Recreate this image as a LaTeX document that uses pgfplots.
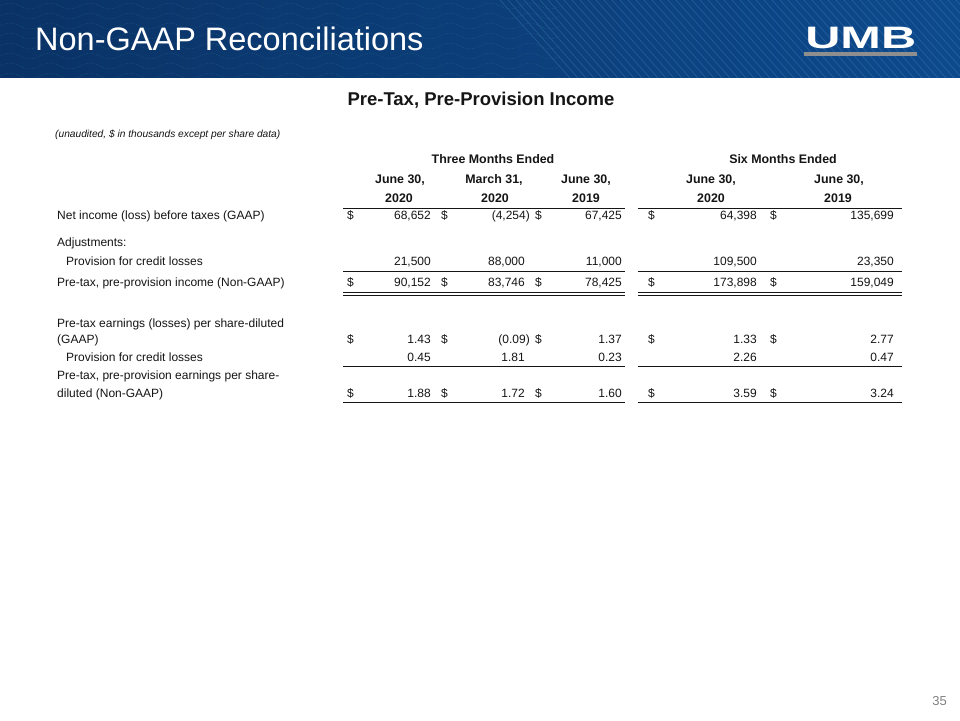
\documentclass[border=0pt]{standalone}
\usepackage{pgfplots}
\pgfplotsset{compat=1.18}
\usepackage{pgfplotstable}
\usepackage{fontspec}
\setmainfont{Liberation Sans}
\definecolor{txt}{HTML}{151515}
\definecolor{bandL}{HTML}{0A3266}
\definecolor{bandR}{HTML}{0D4A8C}
\definecolor{stripe}{HTML}{4A8CCB}
\definecolor{wave}{HTML}{3FA3A0}
\definecolor{logobar}{HTML}{8E8E8E}

% row labels (left aligned): x ; baseline y ; text
\pgfplotstableread[col sep=semicolon]{
x;y;t
57;220;Net income (loss) before taxes (GAAP)
57;247;Adjustments:
66;266;Provision for credit losses
57;287;Pre-tax, pre-provision income (Non-GAAP)
57;327;Pre-tax earnings (losses) per share-diluted
57;343;(GAAP)
66;361;Provision for credit losses
57;379;Pre-tax, pre-provision earnings per share-
57;397;diluted (Non-GAAP)
}\rowlabels

% dollar signs (left aligned)
\pgfplotstableread[col sep=semicolon]{
x;y;t
347;220;\$
441;220;\$
535;220;\$
648;220;\$
770;220;\$
347;287;\$
441;287;\$
535;287;\$
648;287;\$
770;287;\$
347;343;\$
441;343;\$
535;343;\$
648;343;\$
770;343;\$
347;397;\$
441;397;\$
535;397;\$
648;397;\$
770;397;\$
}\dollars

% values (right aligned)
\pgfplotstableread[col sep=semicolon]{
x;y;t
431;220;68,652
530;220;(4,254)
622;220;67,425
757;220;64,398
894;220;135,699
431;266;21,500
525;266;88,000
622;266;11,000
757;266;109,500
894;266;23,350
431;287;90,152
525;287;83,746
622;287;78,425
757;287;173,898
894;287;159,049
431;343;1.43
530;343;(0.09)
622;343;1.37
757;343;1.33
894;343;2.77
431;361;0.45
525;361;1.81
622;361;0.23
757;361;2.26
894;361;0.47
431;397;1.88
525;397;1.72
622;397;1.60
757;397;3.59
894;397;3.24
}\values

% column headers (centred, bold)
\pgfplotstableread[col sep=semicolon]{
x;y;t
493;164;Three Months Ended
783;164;Six Months Ended
400;184;June 30,
494;184;March 31,
586;184;June 30,
711;184;June 30,
839;184;June 30,
399;203;2020
495;203;2020
586;203;2019
711;203;2020
838;203;2019
}\headers

\begin{document}
\begin{tikzpicture}
\begin{scope}[x=1pt,y=-1pt,yshift=720pt]
  \fill[white] (0,0) rectangle (960,720);
  \shade[left color=bandL, right color=bandR] (0,0) rectangle (960,78);
  \begin{scope}
    \clip (0,0) rectangle (960,78);
    \foreach \k in {0,...,13}{
      \foreach \r in {6,16,...,76}{
        \draw[wave, opacity=0.25, line width=0.5pt, dash pattern=on 1.2pt off 1.2pt]
          (\k*40,\r) sin (\k*40+10,\r-3) cos (\k*40+20,\r) sin (\k*40+30,\r+3) cos (\k*40+40,\r);
      }
    }
    \foreach \i in {500,508,...,960}{
      \draw[stripe, opacity=0.38, line width=0.6pt] (\i,0) -- ++(70,78);
    }
  \end{scope}
  \node[anchor=base west, inner sep=0pt, text=white, font=\fontsize{32.5}{38}\selectfont] at (35,51) {Non-GAAP Reconciliations};
  \node[anchor=base west, inner sep=0pt, text=white, font=\fontsize{31}{31}\selectfont\bfseries, xscale=1.57] at (805,49) {UMB};
  \fill[logobar] (804,52) rectangle (917,56);
  \node[anchor=base, inner sep=0pt, text=txt, font=\fontsize{18.5}{20}\selectfont\bfseries] at (481,106) {Pre-Tax, Pre-Provision Income};
  \node[anchor=base west, inner sep=0pt, text=txt, font=\fontsize{10.2}{12}\selectfont\itshape] at (55,138) {(unaudited, \$ in thousands except per share data)};
  \node[anchor=base east, inner sep=0pt, text=gray, font=\fontsize{13}{15}\selectfont] at (947,705) {35};
\end{scope}

\begin{axis}[
  at={(0,0)}, anchor=south west,
  width=960pt, height=720pt, scale only axis,
  xmin=0, xmax=960, ymin=0, ymax=720, y dir=reverse,
  hide axis, clip=false,
]
\addplot[only marks, mark=none, point meta=explicit symbolic, nodes near coords,
  every node near coord/.append style={anchor=base west, inner sep=0pt, text=txt, font=\fontsize{12}{14}\selectfont}]
  table[x=x, y=y, meta=t]{\rowlabels};
\addplot[only marks, mark=none, point meta=explicit symbolic, nodes near coords,
  every node near coord/.append style={anchor=base west, inner sep=0pt, text=txt, font=\fontsize{12}{14}\selectfont}]
  table[x=x, y=y, meta=t]{\dollars};
\addplot[only marks, mark=none, point meta=explicit symbolic, nodes near coords,
  every node near coord/.append style={anchor=base east, inner sep=0pt, text=txt, font=\fontsize{12}{14}\selectfont}]
  table[x=x, y=y, meta=t]{\values};
\addplot[only marks, mark=none, point meta=explicit symbolic, nodes near coords,
  every node near coord/.append style={anchor=base, inner sep=0pt, text=txt, font=\fontsize{12.4}{14}\selectfont\bfseries}]
  table[x=x, y=y, meta=t]{\headers};

% rules
\draw[txt, line width=0.8pt] (axis cs:343,208) -- (axis cs:625,208);
\draw[txt, line width=0.8pt] (axis cs:638,208) -- (axis cs:902,208);
\draw[txt, line width=0.8pt] (axis cs:343,271) -- (axis cs:625,271);
\draw[txt, line width=0.8pt] (axis cs:638,271) -- (axis cs:902,271);
\draw[txt, line width=0.8pt] (axis cs:343,292) -- (axis cs:625,292);
\draw[txt, line width=0.8pt] (axis cs:638,292) -- (axis cs:902,292);
\draw[txt, line width=0.8pt] (axis cs:343,295) -- (axis cs:625,295);
\draw[txt, line width=0.8pt] (axis cs:638,295) -- (axis cs:902,295);
\draw[txt, line width=0.8pt] (axis cs:343,366) -- (axis cs:625,366);
\draw[txt, line width=0.8pt] (axis cs:638,366) -- (axis cs:902,366);
\draw[txt, line width=0.8pt] (axis cs:343,402) -- (axis cs:625,402);
\draw[txt, line width=0.8pt] (axis cs:638,402) -- (axis cs:902,402);
\end{axis}
\end{tikzpicture}
\end{document}
